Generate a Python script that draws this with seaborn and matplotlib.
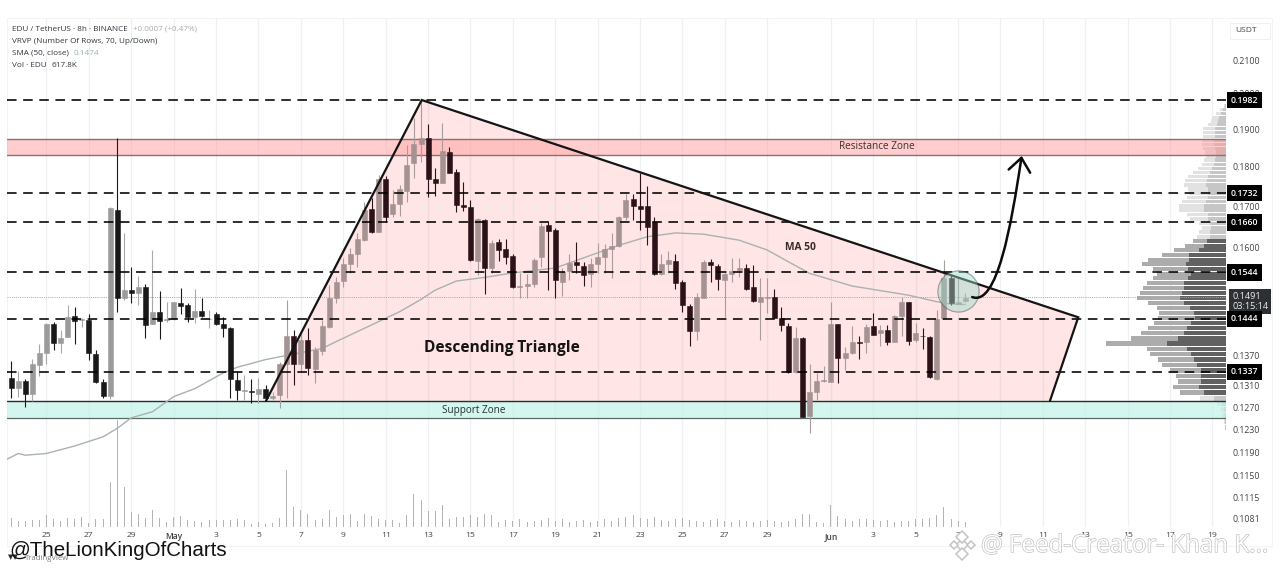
import numpy as np
import pandas as pd
import seaborn as sns
import matplotlib
matplotlib.use("Agg")
import matplotlib.pyplot as plt
import matplotlib.dates as mdates
import matplotlib.patheffects as pe
from matplotlib.lines import Line2D
from matplotlib.patches import FancyArrowPatch, Polygon, Rectangle
from matplotlib.path import Path

# ---------- data ----------
opens = [.1325,.1307,.1319,.1295,.1351,.1375,.1434,.1395,.1407,.1449,
         .1441,.1442,.1373,.1318,.1291,.1690,.1489,.1505,.1499,.1512,
         .1433,.1459,.1441,.1443,.1478,.1473,.1447,.1461,.1443,.1453,
         .1432,.1425,.1321,.1300,.1300,.1295,.1305,.1288,.1293,.1353,
         .1409,.1353,.1401,.1342,.1379,.1426,.1487,.1525,.1563,.1587,
         .1618,.1692,.1638,.1769,.1680,.1704,.1738,.1808,.1861,.1877,
         .1767,.1758,.1838,.1787,.1702,.1698,.1571,.1666,.1553,.1614,
         .1597,.1581,.1511,.1514,.1518,.1579,.1654,.1642,.1523,.1547,
         .1567,.1559,.1540,.1564,.1580,.1597,.1604,.1674,.1717,.1701,
         .1701,.1660,.1540,.1563,.1570,.1522,.1471,.1419,.1489,.1568,
         .1559,.1528,.1540,.1550,.1553,.1511,.1480,.1488,.1491,.1445,
         .1429,.1336,.1405,.1255,.1299,.1320,.1318,.1432,.1364,.1375,
         .1396,.1396,.1428,.1414,.1421,.1396,.1449,.1479,.1400,.1409,
         .1406,.1324,.1445,.1532,.1476,.1482]
highs = [.1359,.1339,.1324,.1363,.1392,.1436,.1437,.1421,.1474,.1469,
         .1445,.1454,.1380,.1324,.1698,.1875,.1636,.1557,.1536,.1518,
         .1595,.1503,.1479,.1480,.1509,.1478,.1507,.1488,.1462,.1459,
         .1448,.1426,.1338,.1331,.1323,.1325,.1312,.1299,.1357,.1484,
         .1421,.1421,.1424,.1387,.1441,.1516,.1534,.1577,.1600,.1635,
         .1710,.1719,.1778,.1775,.1740,.1752,.1857,.1931,.1980,.1914,
         .1795,.1916,.1852,.1794,.1761,.1715,.1671,.1668,.1618,.1621,
         .1621,.1587,.1542,.1540,.1577,.1659,.1660,.1646,.1554,.1587,
         .1614,.1568,.1577,.1612,.1610,.1634,.1676,.1730,.1730,.1782,
         .1750,.1674,.1587,.1592,.1587,.1527,.1476,.1498,.1572,.1574,
         .1563,.1545,.1576,.1576,.1563,.1561,.1531,.1532,.1507,.1468,
         .1436,.1426,.1407,.1353,.1335,.1348,.1480,.1433,.1387,.1429,
         .1409,.1433,.1456,.1431,.1431,.1452,.1491,.1480,.1436,.1424,
         .1409,.1463,.1572,.1538,.1531,.1499]
lows = [.1287,.1290,.1270,.1281,.1329,.1352,.1381,.1375,.1407,.1393,
        .1426,.1360,.1316,.1287,.1285,.1459,.1484,.1477,.1473,.1405,
        .1433,.1402,.1437,.1441,.1454,.1437,.1436,.1448,.1424,.1431,
        .1407,.1287,.1284,.1284,.1279,.1279,.1281,.1284,.1269,.1288,
        .1312,.1337,.1331,.1316,.1370,.1425,.1477,.1511,.1542,.1557,
        .1616,.1635,.1638,.1662,.1674,.1676,.1711,.1770,.1813,.1723,
        .1725,.1758,.1783,.1686,.1688,.1571,.1538,.1496,.1543,.1570,
        .1563,.1509,.1489,.1489,.1512,.1557,.1505,.1489,.1492,.1528,
        .1542,.1513,.1511,.1542,.1543,.1531,.1602,.1666,.1666,.1642,
        .1606,.1538,.1538,.1542,.1507,.1459,.1388,.1400,.1487,.1523,
        .1506,.1448,.1523,.1534,.1506,.1480,.1401,.1456,.1445,.1418,
        .1335,.1335,.1252,.1224,.1284,.1318,.1318,.1315,.1341,.1373,
        .1363,.1374,.1411,.1388,.1390,.1396,.1409,.1390,.1397,.1383,
        .1325,.1322,.1445,.1473,.1475,.1480]
closes = [.1307,.1319,.1294,.1353,.1375,.1434,.1395,.1405,.1448,.1440,
          .1443,.1375,.1317,.1291,.1694,.1489,.1505,.1499,.1512,.1431,
          .1459,.1439,.1443,.1479,.1470,.1448,.1461,.1450,.1444,.1432,
          .1425,.1324,.1302,.1302,.1298,.1304,.1288,.1291,.1352,.1409,
          .1353,.1401,.1344,.1380,.1429,.1487,.1523,.1562,.1586,.1620,
          .1690,.1638,.1769,.1674,.1704,.1742,.1804,.1859,.1877,.1767,
          .1758,.1840,.1784,.1702,.1697,.1572,.1668,.1553,.1612,.1595,
          .1579,.1511,.1515,.1519,.1572,.1652,.1640,.1527,.1545,.1566,
          .1560,.1538,.1564,.1580,.1597,.1604,.1674,.1715,.1701,.1692,
          .1649,.1540,.1564,.1572,.1520,.1473,.1419,.1491,.1567,.1560,
          .1530,.1540,.1548,.1553,.1507,.1482,.1490,.1490,.1446,.1431,
          .1336,.1405,.1253,.1299,.1320,.1322,.1434,.1365,.1375,.1396,
          .1394,.1426,.1411,.1421,.1397,.1450,.1479,.1398,.1414,.1408,
          .1327,.1444,.1531,.1477,.1480,.1489]
volumes = [9,6,6,7,7,12,8,6,9,8, 10,4,8,8,45,107,40,15,13,9,
           17,9,5,10,11,7,6,5,7,7, 7,7,8,7,3,5,3,4,9,57,
           20,17,13,7,8,17,10,12,13,6, 13,11,8,7,7,4,12,33,27,16,
           16,22,8,10,10,12,10,13,12,5, 7,6,8,5,6,7,9,6,8,5,
           6,7,5,6,8,6,9,10,12,9, 8,10,7,6,8,9,7,6,5,7,
           8,6,5,7,6,5,6,7,6,5, 6,8,13,13,5,4,22,11,8,6,
           8,8,7,6,7,5,6,6,8,8, 9,12,20,8,6,5]
sma_idx = [-0.6,1,2,5,9,13,15,17,20,23,26,30,32,36,40,44,46,52,55,58,60,63,67,
           71,77,81,86,90,94,98,103,107,110,113,119,127,131,133,135]
sma_val = [.1178,.1188,.1185,.1188,.1201,.1217,.1232,.1251,.1262,.1290,.1305,
           .1335,.1346,.1361,.1372,.1383,.1397,.1438,.1459,.1485,.1505,.1525,
           .1533,.1543,.1554,.1577,.1606,.1626,.1635,.1632,.1618,.1595,.1568,
           .1542,.1514,.1494,.1480,.1475,.1474]
vp_total = [2,6,10,14,15,18,23,23,23,24, 24,23,21,20,22,24,28,33,38,41,
            42,38,37,39,44,47,47,39,36,27, 24,27,29,33,41,52,64,78,84,73,
            69,73,79,83,86,89,78,69,67,68, 72,78,85,95,120,79,76,68,64,56,
            50,48,53,46,26,9,5,4,2,1]
vp_down = [1,3,5,7,8,9,11,11,11,12, 12,11,10,10,11,12,14,16,18,19,
           20,18,18,18,20,22,22,18,18,16, 15,16,16,19,22,27,37,37,40,38,
           35,38,42,42,44,46,42,36,32,31, 35,39,42,48,59,39,35,32,29,25,
           25,25,27,22,12,4,2,2,1,1]
level_prices = [.1982,.1732,.1660,.1544,.1337,.1444]
y_ticks = [.21,.20,.19,.18,.17,.16,.15,.145,.137,.131,.127,.123,.119,.115,.1115,.1081]
y_labels = ['0.2100','0.2000','0.1900','0.1800','0.1700','0.1600','0.1500','0.1450',
            '0.1370','0.1310','0.1270','0.1230','0.1190','0.1150','0.1115','0.1081']
x_tick_dates = ['2025-04-25','2025-04-27','2025-04-29','2025-05-01','2025-05-03','2025-05-05',
                '2025-05-07','2025-05-09','2025-05-11','2025-05-13','2025-05-15','2025-05-17',
                '2025-05-19','2025-05-21','2025-05-23','2025-05-25','2025-05-27','2025-05-29',
                '2025-06-01','2025-06-03','2025-06-05','2025-06-07','2025-06-09','2025-06-11',
                '2025-06-13','2025-06-15','2025-06-17','2025-06-19']
x_tick_labels = ['25','27','29','May','3','5','7','9','11','13','15','17','19','21','23','25',
                 '27','29','Jun','3','5','7','9','11','13','15','17','19']
resistance = (.1830,.1873)
support = (.1251,.1282)
triangle_idx = [36.06,58.1,151.0,147.0]
triangle_val = [.1282,.1982,.1447,.1282]
arrow_idx = [136.0,139.5,141.5,143.0]
arrow_val = [.1490,.1470,.1650,.1828]
last_price = .1491

# ---------- set-up ----------
sns.set_theme(style="white")
plt.rcParams['font.family'] = ['Open Sans', 'DejaVu Sans']
W, H = 1280, 571
fig = plt.figure(figsize=(W/100, H/100), dpi=100, facecolor='white')
L, R, T, B = 7, 1226, 18, 527
pos = [L/W, 1-B/H, (R-L)/W, (B-T)/H]

start = mdates.date2num(pd.Timestamp('2025-04-23 08:00'))
def idx2x(i):
    return start + np.asarray(i, dtype=float)/3.0
def px_date(px):
    return mdates.date2num(pd.Timestamp('2025-04-25')) + (px-46.5)/21.2

xs = idx2x(np.arange(len(opens)))
opens, highs, lows, closes = map(np.array, (opens, highs, lows, closes))

vol_ax = fig.add_axes(pos, zorder=0, facecolor='white')
ax = fig.add_axes(pos, zorder=2, sharex=vol_ax)
ax.patch.set_alpha(0)
ax.set_yscale('log')
ax.set_ylim(.1068, .2232)
ax.set_xlim(px_date(L), px_date(R))
vp_ax = fig.add_axes(pos, zorder=1, sharey=ax)
vp_ax.patch.set_alpha(0)
vp_ax.set_xlim(R-L, 0)
vp_ax.axis('off')

# grid + volume
tick_x = mdates.date2num(pd.to_datetime(x_tick_dates))
vol_ax.vlines(tick_x, 0, 1, transform=vol_ax.get_xaxis_transform(), color='#eef0f3', lw=0.9, zorder=0)
vol_ax.bar(xs, volumes, width=0.05, color='#b4b4b4', edgecolor='none', linewidth=0, zorder=1)
vol_ax.set_ylim(0, B-T)
vol_ax.axis('off')

# visible range profile
n = len(vp_total)
row_price = np.linspace(.1965, .1234, n)
step = row_price[0]-row_price[1]
vp_total = np.array(vp_total); vp_down = np.array(vp_down)
in_va = (np.arange(n) >= 33) & (np.arange(n) <= 63)
vp_ax.barh(row_price, vp_total, height=step*0.84,
           color=np.where(in_va, '#acacac', '#e2e2e2'), edgecolor='none', linewidth=0)
vp_ax.barh(row_price, vp_down, height=step*0.84,
           color=np.where(in_va, '#616161', '#c6c6c6'), edgecolor='none', linewidth=0)

# triangle, zones, levels
tri = list(zip(idx2x(triangle_idx), triangle_val))
ax.add_patch(Polygon(tri, closed=True, facecolor='#ff9999', alpha=0.25, edgecolor='none', linewidth=0, zorder=1))
ax.axhspan(*resistance, facecolor='#ff9c9c', alpha=0.5, edgecolor='none', linewidth=0, zorder=1.2)
ax.axhspan(*support, facecolor='#bff3e6', alpha=0.68, edgecolor='none', linewidth=0, zorder=1.2)
for v in resistance:
    ax.axhline(v, color='#8c6f6f', lw=1.0, zorder=1.3)
ax.axhline(support[0], color='#5a6a66', lw=0.9, zorder=1.3)
ax.axhline(support[1], color='#2b2b2b', lw=1.0, zorder=1.3)
ax.axhline(last_price, color='#a6a6a6', lw=0.7, ls=(0, (1, 1.2)), zorder=1.4)

# SMA
sma_frame = pd.DataFrame({'x': idx2x(sma_idx), 'sma': sma_val})
sns.lineplot(data=sma_frame, x='x', y='sma', ax=ax, color='#a9b2b1', lw=1.0, zorder=2, estimator=None)
ax.set_xlabel(''); ax.set_ylabel('')

# candles
up = closes >= opens
inside = np.arange(len(xs)) >= 38
body = np.where(up, np.where(inside, '#a59292', '#9b9b9b'), np.where(inside, '#2a1218', '#191919'))
wick = np.where(up, np.where(inside, '#ab9c9c', '#a8a8a8'), np.where(inside, '#2a1218', '#191919'))
ax.vlines(xs, lows, highs, colors=wick, lw=0.8, zorder=3)
ax.bar(xs, np.abs(closes-opens), bottom=np.minimum(opens, closes), width=0.235,
       color=body, edgecolor=body, linewidth=0.4, zorder=3.2)

# dashed levels
for v in level_prices:
    ax.axhline(v, color='black', lw=1.15, dashes=(6.0, 4.1), zorder=4)

# triangle outline
tx, ty = zip(*tri)
ax.plot(tx, ty, color='#141414', lw=1.6, zorder=5, solid_joinstyle='miter')

# circle + arrow
sns.scatterplot(x=idx2x([134.0]), y=[.1503], s=880, ax=ax, color='#9fd8cb', alpha=0.45,
                edgecolor='#3f4f4c', linewidth=0.9, zorder=6, legend=False)
ax.set_xlabel(''); ax.set_ylabel('')
codes = [Path.MOVETO, Path.CURVE4, Path.CURVE4, Path.CURVE4]
arrow = FancyArrowPatch(path=Path(list(zip(idx2x(arrow_idx), arrow_val)), codes),
                        transform=ax.transData, arrowstyle='->,head_length=0.42,head_width=0.34',
                        mutation_scale=23, color='#0c0c0c', lw=1.8, zorder=7)
ax.add_patch(arrow)

# restore limits touched by seaborn
ax.set_xlim(px_date(L), px_date(R))
ax.set_ylim(.1068, .2232)

# axes dressing
ax.yaxis.tick_right()
ax.set_yticks(y_ticks, labels=y_labels)
ax.yaxis.set_minor_locator(matplotlib.ticker.NullLocator())
ax.tick_params(axis='y', length=0, pad=4.6, labelsize=6.3, labelcolor='#3f4348')
ax.set_xticks(tick_x, labels=x_tick_labels)
ax.tick_params(axis='x', length=0, pad=3.6, labelsize=6.1, labelcolor='#3f4348')
for lab in ax.get_xticklabels():
    if lab.get_text() in ('May', 'Jun'):
        lab.set_fontweight('semibold')
for s in ax.spines.values():
    s.set_visible(False)

# price tags
ytr = ax.get_yaxis_transform()
for v in level_prices:
    ax.text(1.0040, v, f'{v:.4f}', transform=ytr, ha='left', va='center', fontsize=6.3, color='white',
            fontweight='semibold', zorder=10,
            bbox=dict(boxstyle='square,pad=0.42', fc='black', ec='none'))
ax.annotate(f'{last_price:.4f}\n03:15:14', xy=(1.0050, last_price), xycoords=ytr,
            xytext=(0, 3.6), textcoords='offset points', ha='left', va='top', fontsize=6.6,
            color='#ececec', linespacing=1.15, zorder=9, annotation_clip=False,
            bbox=dict(boxstyle='square,pad=0.32', fc='#2c2f33', ec='none'))

# labels on the chart
def ftext(px, py, s, **kw):
    return fig.text(px/W, 1-py/H, s, **kw)
ftext(877, 147, 'Resistance Zone', fontsize=7.2, color='#3a3030', ha='center', va='center', zorder=20)
ftext(474, 410, 'Support Zone', fontsize=7.2, color='#263330', ha='center', va='center', zorder=20)
ftext(502, 348, 'Descending Triangle', fontsize=11.2, fontweight='bold', color='#141414', ha='center', va='center', zorder=20)
ftext(800, 247, 'MA 50', fontsize=7.4, fontweight='bold', color='#3a2a2a', ha='center', va='center', zorder=20)

# legend block
kw = dict(fontsize=5.9, color='#33373c', va='center', ha='left', zorder=20)
ftext(12.5, 29.5, 'EDU / TetherUS · 8h · BINANCE', **kw)
ftext(133, 29.5, '+0.0007 (+0.47%)', **{**kw, 'color': '#a7abb0'})
ftext(12.5, 41.5, 'VRVP (Number Of Rows, 70, Up/Down)', **kw)
ftext(12.5, 53.5, 'SMA (50, close)', **kw)
ftext(74, 53.5, '0.1474', **{**kw, 'color': '#8fb5ad'})
ftext(12.5, 65.5, 'Vol · EDU', **kw)
ftext(52, 65.5, '617.8K', **kw)

# USDT box
fig.add_artist(Rectangle((1230/W, 1-39/H), 40/W, 16/H, transform=fig.transFigure, fc='white', ec='#f0f0f0', lw=0.7))
ftext(1246, 31, 'USDT', fontsize=6.0, color='#3f4348', ha='center', va='center', zorder=20)
# outer frame
fig.add_artist(Rectangle((L/W, 1-546/H), (1272-L)/W, (546-T)/H, transform=fig.transFigure, fc='none', ec='#f3f3f3', lw=0.7))

# watermarks and credits
ftext(25, 558, 'TradingView', fontsize=5.6, color='#7a7a7a', ha='left', va='center', zorder=18)
ftext(8, 558, '▼▼', fontsize=5.0, color='#2a2a2a', ha='left', va='center', zorder=18)
ftext(9, 551, '@TheLionKingOfCharts', fontsize=14.8, family='Liberation Sans', color='#111111', ha='left', va='center', zorder=21)
wm = ftext(981, 546, '@ Feed-Creator- Khan K...', fontsize=17.4, color='white', ha='left', va='center', zorder=22)
wm.set_path_effects([pe.Stroke(linewidth=0.9, foreground='#bdbdbd'), pe.Normal()])
for dx, dy, size in [(0, 0, 6.5), (-8.5, 0, 4), (8.5, 0, 4), (0, -8.5, 6), (0, 8.5, 6)]:
    fig.add_artist(Line2D([(962+dx)/W], [1-(545+dy)/H], transform=fig.transFigure, marker='D', ms=size,
                          mfc='white', mec='#c4c4c4', mew=1.1, ls='none', zorder=22))

fig.savefig('out.png', dpi=100, facecolor='white')
